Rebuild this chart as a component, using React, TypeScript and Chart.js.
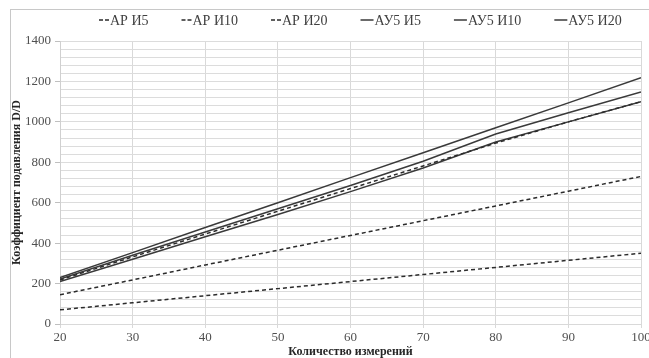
import React, { useEffect, useRef } from 'react';
import { Chart, registerables } from 'chart.js';

Chart.register(...registerables);

const xValues = [20, 30, 40, 50, 60, 70, 80, 90, 100];
const seriesNames = ['АР И5', 'АР И10', 'АР И20', 'АУ5 И5', 'АУ5 И10', 'АУ5 И20'];
const arI5 = [70, 105, 140, 175, 210, 245, 280, 315, 350];
const arI10 = [145, 218, 292, 365, 438, 511, 584, 657, 730];
const arI20 = [218, 332, 445, 558, 670, 782, 895, 1000, 1100];
const auI5 = [210, 320, 432, 542, 655, 772, 900, 1000, 1100];
const auI10 = [222, 340, 455, 570, 685, 805, 940, 1045, 1148];
const auI20 = [230, 353, 477, 600, 724, 847, 971, 1094, 1218];
const yTickLabels = [0, 200, 400, 600, 800, 1000, 1200, 1400];
const xTickLabels = [20, 30, 40, 50, 60, 70, 80, 90, 100];

const seriesValues = [arI5, arI10, arI20, auI5, auI10, auI20];
const dashedFlags = [true, true, true, false, false, false];

const framePlugin = {
  id: 'frame',
  beforeDraw(chart: any) {
    const ctx = chart.ctx;
    ctx.save();
    ctx.fillStyle = '#ffffff';
    ctx.fillRect(0, 0, chart.width, chart.height);
    ctx.strokeStyle = '#c8c8c8';
    ctx.lineWidth = 1;
    ctx.strokeRect(10.5, 9.5, chart.width + 20, chart.height + 20);
    ctx.restore();
  },
};

const legendPlugin = {
  id: 'topLegend',
  afterDraw(chart: any) {
    const ctx = chart.ctx;
    ctx.save();
    ctx.font = '14px "Liberation Serif"';
    ctx.textBaseline = 'middle';
    ctx.textAlign = 'left';
    let x = 99;
    const y = 20;
    chart.data.datasets.forEach((ds: any) => {
      const dashed = ds.borderDash && ds.borderDash.length > 0;
      const w = dashed ? 10 : 13;
      ctx.strokeStyle = ds.borderColor;
      ctx.lineWidth = 1.5;
      ctx.setLineDash(dashed ? [4, 2] : []);
      ctx.beginPath();
      ctx.moveTo(x, y);
      ctx.lineTo(x + w, y);
      ctx.stroke();
      ctx.setLineDash([]);
      ctx.fillStyle = '#404040';
      ctx.fillText(ds.label, x + w + 1, y + 1);
      x += w + 1 + ctx.measureText(ds.label).width + 33;
    });
    ctx.restore();
  },
};

export default function App() {
  const ref = useRef<HTMLCanvasElement | null>(null);

  useEffect(() => {
    if (!ref.current) return;
    const datasets = seriesNames.map((name, i) => ({
      label: name,
      data: xValues.map((x, j) => ({ x, y: seriesValues[i][j] })),
      borderColor: dashedFlags[i] ? '#2b2b2b' : '#3a3a3a',
      borderWidth: 1.5,
      borderDash: dashedFlags[i] ? [4, 3] : [],
      pointRadius: 0,
      fill: false,
      tension: 0,
    }));
    const chart = new Chart(ref.current, {
      type: 'line',
      data: { datasets },
      plugins: [framePlugin, legendPlugin],
      options: {
        animation: false,
        responsive: false,
        devicePixelRatio: 1,
        layout: { padding: { top: 41, left: 0, right: 8, bottom: 0 } },
        plugins: {
          legend: { display: false },
          tooltip: { enabled: false },
        },
        scales: {
          x: {
            type: 'linear',
            min: 20,
            max: 100,
            afterFit: (s: any) => {
              s.height = 34;
              s.paddingLeft = 0;
              s.paddingRight = 0;
            },
            afterBuildTicks: (s: any) => {
              s.ticks = xTickLabels.map((v) => ({ value: v }));
            },
            ticks: {
              autoSkip: false,
              maxRotation: 0,
              padding: 2,
              color: '#505050',
              font: { family: '"Liberation Serif"', size: 13 },
            },
            grid: { color: '#d9d9d9', tickLength: 4, tickColor: '#d9d9d9' },
            border: { color: '#d9d9d9' },
            title: {
              display: true,
              text: 'Количество измерений',
              color: '#262626',
              font: { family: '"Liberation Serif"', size: 12, weight: 'bold' },
              padding: { top: 0, bottom: -1 },
            },
          },
          y: {
            type: 'linear',
            min: 0,
            max: 1400,
            afterFit: (s: any) => {
              s.width = 60;
              s.paddingTop = 0;
              s.paddingBottom = 0;
            },
            ticks: {
              stepSize: 40,
              autoSkip: false,
              padding: 4,
              color: '#505050',
              font: { family: '"Liberation Serif"', size: 13 },
              callback: (v: any) => (yTickLabels.includes(Number(v)) ? String(v) : ''),
            },
            grid: {
              color: '#dcdcdc',
              tickLength: 5,
              tickColor: (c: any) => (c.tick && yTickLabels.includes(c.tick.value) ? '#bfbfbf' : 'rgba(0,0,0,0)'),
            },
            border: { color: '#d0d0d0' },
            title: {
              display: true,
              text: 'Коэффициент подавления D/D',
              color: '#262626',
              font: { family: '"Liberation Serif"', size: 12, weight: 'bold' },
              padding: { top: 10, bottom: 0 },
            },
          },
        },
      } as any,
    });
    return () => chart.destroy();
  }, []);

  return (
    <div style={{ position: 'fixed', left: 0, top: 0, width: 649, height: 358, overflow: 'hidden', background: '#fff' }}>
      <canvas ref={ref} width={649} height={358} style={{ display: 'block' }} />
    </div>
  );
}
